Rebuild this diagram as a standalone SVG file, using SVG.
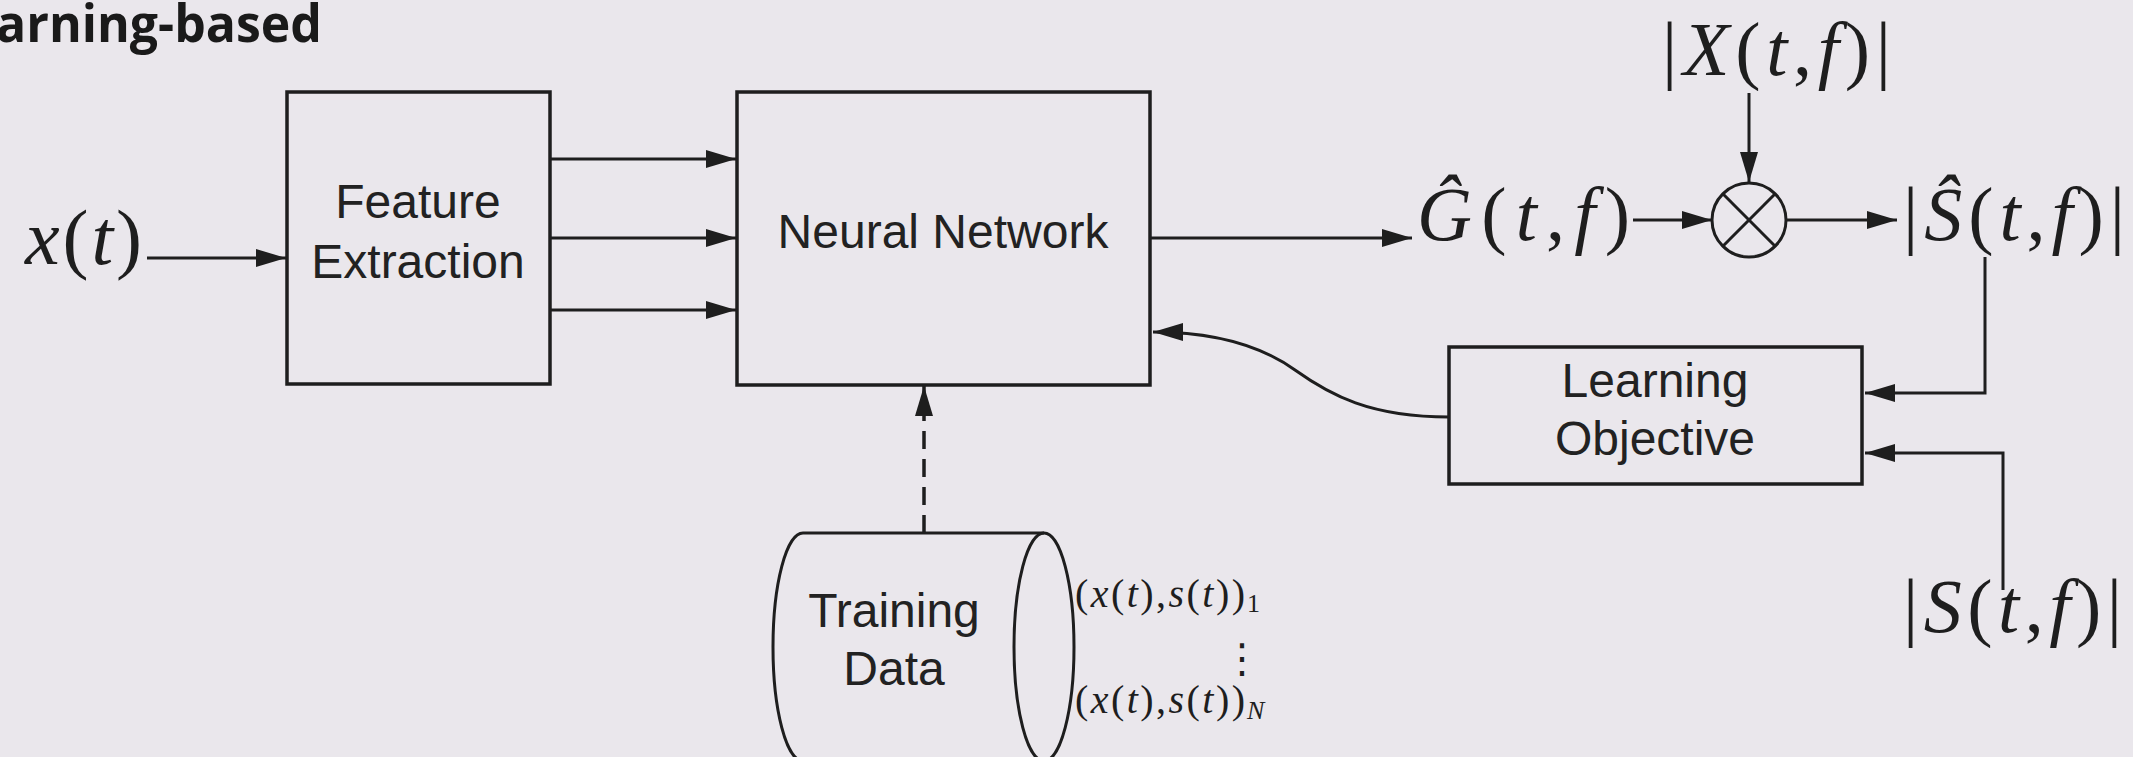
<svg xmlns="http://www.w3.org/2000/svg" width="2133" height="757" viewBox="0 0 2133 757">
<defs>
<style>
.bg{fill:#eae7ec}
.box{fill:none;stroke:#1e1e1e;stroke-width:3.5}
.ln{fill:none;stroke:#1e1e1e;stroke-width:3}
.dash{fill:none;stroke:#1e1e1e;stroke-width:3.5;stroke-dasharray:18 10}
.lbl{font-family:"Liberation Sans",Arial,sans-serif;font-size:48px;fill:#222;text-anchor:middle}
.math{font-family:"Liberation Serif","Times New Roman",serif;fill:#1e1e1e}
.it{font-style:italic}
.title{font-family:"Open Sans","Liberation Sans",sans-serif;font-weight:700;font-size:52px;fill:#1a1a1a}
</style>
<marker id="ah" viewBox="0 0 30 18" markerWidth="30" markerHeight="18" refX="30" refY="9" orient="auto" markerUnits="userSpaceOnUse">
<path d="M0,0 L30,9 L0,18 z" fill="#1e1e1e"/>
</marker>
</defs>
<rect class="bg" x="0" y="0" width="2133" height="757"/>

<text class="title" x="-4" y="42" textLength="326" lengthAdjust="spacingAndGlyphs">arning-based</text>

<g id="input-x">
<text class="math" x="25" y="264" font-size="78" textLength="117" lengthAdjust="spacing"><tspan class="it">x</tspan>(<tspan class="it">t</tspan>)</text>
</g>

<g id="feature-extraction">
<rect class="box" x="287" y="92" width="263" height="292"/>
<text class="lbl" x="418" y="218">Feature</text>
<text class="lbl" x="418" y="278">Extraction</text>
</g>

<g id="neural-network">
<rect class="box" x="737" y="92" width="413" height="293"/>
<text class="lbl" x="943" y="248">Neural Network</text>
</g>

<g id="gain">
<text class="math" x="1417" y="240" font-size="76" textLength="213" lengthAdjust="spacing"><tspan class="it">Ĝ</tspan>(<tspan class="it">t</tspan>,<tspan class="it">f</tspan>)</text>
</g>

<g id="multiplier">
<circle class="ln" cx="1749" cy="220" r="37"/>
<line class="ln" x1="1722.8" y1="193.8" x2="1775.2" y2="246.2"/>
<line class="ln" x1="1775.2" y1="193.8" x2="1722.8" y2="246.2"/>
</g>

<g id="mixture-mag">
<text class="math" x="1662" y="75" font-size="76" textLength="229" lengthAdjust="spacing">|<tspan class="it">X</tspan>(<tspan class="it">t</tspan>,<tspan class="it">f</tspan>)|</text>
</g>

<g id="estimate-mag">
<text class="math" x="1903" y="240" font-size="76" textLength="222" lengthAdjust="spacing">|<tspan class="it">Ŝ</tspan>(<tspan class="it">t</tspan>,<tspan class="it">f</tspan>)|</text>
</g>

<g id="target-mag">
<text class="math" x="1903" y="632" font-size="76" textLength="219" lengthAdjust="spacing">|<tspan class="it">S</tspan>(<tspan class="it">t</tspan>,<tspan class="it">f</tspan>)|</text>
</g>

<g id="learning-objective">
<rect class="box" x="1449" y="347" width="413" height="137"/>
<text class="lbl" x="1655" y="397">Learning</text>
<text class="lbl" x="1655" y="455">Objective</text>
</g>

<g id="training-data">
<path class="ln" d="M803,533 H1044 M803,533 A30,114 0 0 0 803,761 H1044"/>
<ellipse class="ln" cx="1044" cy="647" rx="30" ry="114"/>
<text class="lbl" x="894" y="627">Training</text>
<text class="lbl" x="894" y="685">Data</text>
<text class="math" x="1075" y="607" font-size="40" textLength="170" lengthAdjust="spacing">(<tspan class="it">x</tspan>(<tspan class="it">t</tspan>),<tspan class="it">s</tspan>(<tspan class="it">t</tspan>))</text>
<text class="math" x="1247" y="612" font-size="26">1</text>
<text x="1242" y="672" font-family="DejaVu Sans,sans-serif" font-size="40" fill="#1e1e1e" text-anchor="middle">⋮</text>
<text class="math" x="1075" y="713" font-size="40" textLength="170" lengthAdjust="spacing">(<tspan class="it">x</tspan>(<tspan class="it">t</tspan>),<tspan class="it">s</tspan>(<tspan class="it">t</tspan>))</text>
<text class="math it" x="1247" y="719" font-size="26">N</text>
</g>

<g id="connectors">
<line class="ln" x1="147" y1="258" x2="286" y2="258" marker-end="url(#ah)"/>
<line class="ln" x1="550" y1="159" x2="736" y2="159" marker-end="url(#ah)"/>
<line class="ln" x1="550" y1="238" x2="736" y2="238" marker-end="url(#ah)"/>
<line class="ln" x1="550" y1="310" x2="736" y2="310" marker-end="url(#ah)"/>
<line class="ln" x1="1150" y1="238" x2="1412" y2="238" marker-end="url(#ah)"/>
<line class="ln" x1="1633" y1="220" x2="1712" y2="220" marker-end="url(#ah)"/>
<line class="ln" x1="1786" y1="220" x2="1897" y2="220" marker-end="url(#ah)"/>
<line class="ln" x1="1749" y1="93" x2="1749" y2="182" marker-end="url(#ah)"/>
<path class="ln" d="M1985,257 V393 H1865" marker-end="url(#ah)"/>
<path class="ln" d="M2003,590 V453 H1865" marker-end="url(#ah)"/>
<path class="ln" d="M1449,417 C1370,417 1330,395 1295,370 S1215,332 1153,332" marker-end="url(#ah)"/>
<line class="dash" x1="924" y1="533" x2="924" y2="386" marker-end="url(#ah)"/>
</g>
</svg>
